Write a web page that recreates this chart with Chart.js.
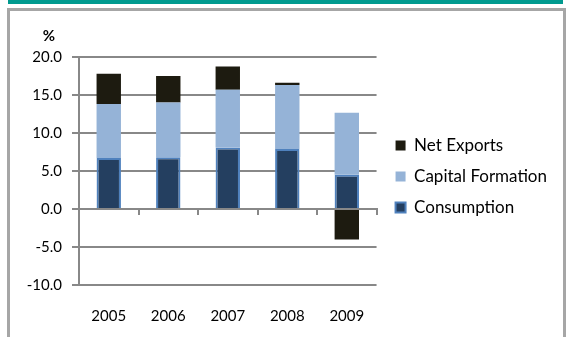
<!DOCTYPE html>
<html>
<head>
<meta charset="utf-8">
<script src="https://cdn.jsdelivr.net/npm/chart.js@4.4.1/dist/chart.umd.min.js"></script>
<style>
    html, body { margin: 0; padding: 0; background: #fff; overflow: hidden; }
    #wrap { position: relative; width: 569px; height: 337px; overflow: hidden; }
    #topBar { position: absolute; left: 8px; top: 0; width: 555px; height: 4px; background: #009a8f; }
    #frame { position: absolute; left: 7px; top: 8px; width: 553px; height: 340px; border: 3px solid #a6a6a6; border-bottom: none; }
    #chartBox { position: absolute; left: 0; top: 0; width: 569px; height: 337px; }
</style>
</head>
<body>
<div id="wrap">
    <div id="topBar"></div>
    <div id="frame"></div>
    <div id="chartBox"><canvas id="growthChart" width="569" height="337"></canvas></div>
</div>
<script>
// Chart data
const years = ['2005', '2006', '2007', '2008', '2009'];
const consumption = [6.7, 6.8, 8.1, 7.9, 4.5];
const capitalFormation = [7.1, 7.2, 7.6, 8.4, 8.15];
const netExports = [4.0, 3.5, 3.05, 0.3, -4.0];
const yTicks = [-10, -5, 0, 5, 10, 15, 20];

Chart.defaults.font.family = 'Lato, "Noto Sans", sans-serif';
Chart.defaults.font.size = 15;
Chart.defaults.color = '#000';

// "%" unit label above the y axis
const unitLabel = {
    id: 'unitLabel',
    afterDraw(chart) {
        const ctx = chart.ctx;
        ctx.save();
        ctx.font = 'bold 15px Lato, "Noto Sans", sans-serif';
        ctx.fillStyle = '#000';
        ctx.textAlign = 'center';
        ctx.textBaseline = 'middle';
        ctx.fillText('%', 49, 36);
        ctx.restore();
    }
};

const gridGray = '#888888';

const ctx = document.getElementById('growthChart').getContext('2d');
const growthChart = new Chart(ctx, {
    type: 'bar',
    data: {
        labels: years,
        datasets: [{
            label: 'Consumption',
            data: consumption,
            backgroundColor: '#243f60',
            borderColor: '#4f81bd',
            borderWidth: 2
        }, {
            label: 'Capital Formation',
            data: capitalFormation,
            backgroundColor: '#95b3d7',
            borderWidth: 0
        }, {
            label: 'Net Exports',
            data: netExports,
            backgroundColor: '#1d1b10',
            borderWidth: 0
        }]
    },
    options: {
        responsive: false,
        animation: false,
        layout: {
            padding: { left: 20, right: 12, top: 57, bottom: -10 }
        },
        datasets: {
            bar: {
                categoryPercentage: 1,
                barPercentage: 0.41
            }
        },
        plugins: {
            legend: {
                position: 'right',
                fullSize: false,
                reverse: true,
                maxWidth: 200,
                // blank title only nudges the items down a little
                title: {
                    display: true,
                    text: ' ',
                    font: { size: 1 },
                    padding: { top: 0, bottom: 10 }
                },
                labels: {
                    boxWidth: 10,
                    boxHeight: 10,
                    padding: 14,
                    color: '#000',
                    font: { size: 17 }
                }
            },
            tooltip: { enabled: false }
        },
        scales: {
            x: {
                stacked: true,
                grid: { display: false, drawTicks: false },
                border: { display: false },
                ticks: { padding: 22 }
            },
            xZero: {
                type: 'category',
                position: { y: 0 },
                offset: true,
                afterFit: scale => {
                    scale.height = 0;
                },
                grid: {
                    offset: true,
                    drawOnChartArea: false,
                    drawTicks: true,
                    tickLength: 5,
                    color: gridGray,
                    lineWidth: 2
                },
                border: { color: gridGray, width: 2 },
                ticks: { display: false }
            },
            y: {
                stacked: true,
                min: yTicks[0],
                max: yTicks[yTicks.length - 1],
                afterBuildTicks: scale => {
                    scale.ticks = yTicks.map(v => ({ value: v }));
                },
                afterFit: scale => {
                    scale.width = 59;
                },
                ticks: {
                    padding: 10,
                    callback: v => v.toFixed(1)
                },
                grid: {
                    color: gridGray,
                    lineWidth: 2,
                    tickLength: 7
                },
                border: { color: gridGray, width: 2 }
            },
            // empty right axis, only keeps a gap between plot and legend
            yGap: {
                type: 'linear',
                position: 'right',
                grid: { display: false },
                border: { display: false },
                ticks: { display: false },
                afterFit: scale => {
                    scale.width = 5;
                }
            }
        }
    },
    plugins: [unitLabel]
});
</script>
</body>
</html>
